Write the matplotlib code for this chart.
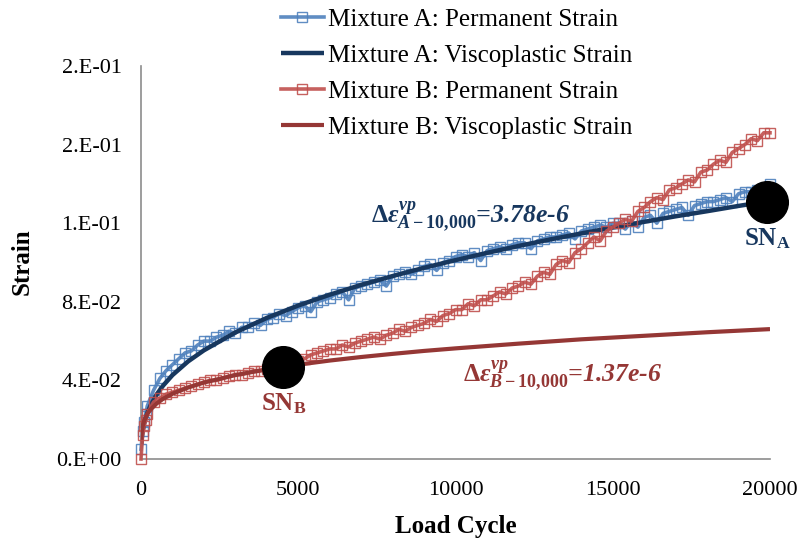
import numpy as np
import matplotlib
matplotlib.use('Agg')
import matplotlib.pyplot as plt

plt.rcParams['font.family'] = ['Liberation Serif', 'DejaVu Serif']
plt.rcParams['mathtext.fontset'] = 'custom'
plt.rcParams['mathtext.rm'] = 'Liberation Serif:bold'
plt.rcParams['mathtext.it'] = 'Liberation Serif:italic:bold'
plt.rcParams['mathtext.bf'] = 'Liberation Serif:bold'

# ---------------- data ----------------
cycles = [0, 50, 100, 150] + list(range(200, 20001, 200))

perm_a = [0.005, 0.014, 0.019, 0.023,
          0.027, 0.035, 0.041, 0.045, 0.048,
          0.051, 0.054, 0.055, 0.058, 0.060,
          0.060, 0.062, 0.063, 0.065, 0.064,
          0.067, 0.067, 0.069, 0.068, 0.071,
          0.072, 0.074, 0.073, 0.075, 0.077,
          0.078, 0.075, 0.080, 0.081, 0.082,
          0.084, 0.085, 0.081, 0.087, 0.088,
          0.089, 0.090, 0.091, 0.088, 0.093,
          0.094, 0.095, 0.094, 0.096, 0.098,
          0.099, 0.096, 0.100, 0.101, 0.103,
          0.104, 0.103, 0.105, 0.101, 0.106,
          0.107, 0.108, 0.107, 0.109, 0.110,
          0.110, 0.107, 0.111, 0.112, 0.113,
          0.113, 0.114, 0.115, 0.112, 0.116,
          0.117, 0.118, 0.119, 0.118, 0.120,
          0.120, 0.117, 0.121, 0.118, 0.123,
          0.124, 0.120, 0.125, 0.126, 0.127,
          0.128, 0.124, 0.129, 0.130, 0.131,
          0.131, 0.132, 0.133, 0.131, 0.135,
          0.136, 0.136, 0.137, 0.138, 0.140]

perm_b = [0.000, 0.012, 0.017, 0.020,
          0.023, 0.029, 0.031, 0.033, 0.034,
          0.035, 0.036, 0.037, 0.038, 0.039,
          0.040, 0.040, 0.041, 0.042, 0.043,
          0.043, 0.044, 0.045, 0.045, 0.046,
          0.047, 0.047, 0.048, 0.049, 0.050,
          0.051, 0.053, 0.054, 0.055, 0.056,
          0.056, 0.058, 0.057, 0.059, 0.060,
          0.061, 0.062, 0.061, 0.063, 0.064,
          0.066, 0.065, 0.067, 0.068, 0.069,
          0.071, 0.070, 0.073, 0.074, 0.076,
          0.076, 0.079, 0.078, 0.081, 0.081,
          0.083, 0.085, 0.084, 0.087, 0.088,
          0.090, 0.089, 0.093, 0.095, 0.094,
          0.099, 0.101, 0.100, 0.105, 0.107,
          0.110, 0.113, 0.111, 0.116, 0.118,
          0.120, 0.122, 0.121, 0.126, 0.128,
          0.131, 0.133, 0.132, 0.137, 0.138,
          0.140, 0.142, 0.141, 0.146, 0.147,
          0.150, 0.152, 0.151, 0.156, 0.158,
          0.160, 0.163, 0.162, 0.166, 0.166]

vp_cycles_a = [10, 25, 50, 100, 200, 300, 500, 700, 1000, 1500, 2000, 3000, 4000,
               5000, 6000, 7000, 8000, 9000, 10000, 11000, 12000, 13000, 14000,
               15000, 16000, 17000, 18000, 19000, 20000]
vp_a = [0.0076, 0.0107, 0.0139, 0.0180, 0.0233, 0.0272, 0.0329, 0.0373, 0.0427,
        0.0497, 0.0553, 0.0644, 0.0718, 0.0781, 0.0836, 0.0886, 0.0931, 0.0973,
        0.1012, 0.1049, 0.1084, 0.1117, 0.1148, 0.1178, 0.1207, 0.1235, 0.1261,
        0.1288, 0.1313]

vp_cycles_b = [5, 20, 50, 100, 200, 300, 500, 700, 1000, 1500, 2000, 3000, 4000,
               5000, 6000, 7000, 8000, 9000, 10000, 12000, 14000, 16000, 18000, 20000]
vp_b = [0.0098, 0.0135, 0.0167, 0.0195, 0.0229, 0.0251, 0.0283, 0.0306, 0.0332,
        0.0364, 0.0389, 0.0427, 0.0456, 0.0480, 0.0501, 0.0519, 0.0535, 0.0550,
        0.0563, 0.0587, 0.0609, 0.0627, 0.0645, 0.0661]

sn_cycles = [19900, 4530]
sn_strain = [0.131, 0.0469]

x_ticks = [0, 5000, 10000, 15000, 20000]
y_ticks = [0.0, 0.04, 0.08, 0.12, 0.16, 0.20]
y_tick_labels = ['0.E+00', '4.E-02', '8.E-02', '1.E-01', '2.E-01', '2.E-01']

series_names = ['Mixture A: Permanent Strain', 'Mixture A: Viscoplastic Strain',
                'Mixture B: Permanent Strain', 'Mixture B: Viscoplastic Strain']

# ---------------- colours ----------------
c_a_perm = '#4F81BD'
c_a_vp = '#17375E'
c_b_perm = '#C0504D'
c_b_vp = '#953735'

fig = plt.figure(figsize=(8.02, 5.45), dpi=100)
ax = fig.add_axes([141/802, 1 - 459/545, (770 - 141)/802, (459 - 66)/545])

h1, = ax.plot(cycles, perm_a, color=c_a_perm, lw=2.6, marker='s', ms=7.5,
              mfc='none', mec=c_a_perm, mew=1.0, alpha=0.9, clip_on=False,
              label=series_names[0], zorder=2)
h2, = ax.plot(vp_cycles_a, vp_a, color=c_a_vp, lw=3.2, label=series_names[1],
              zorder=3, solid_capstyle='butt')
h3, = ax.plot(cycles, perm_b, color=c_b_perm, lw=2.6, marker='s', ms=7.5,
              mfc='none', mec=c_b_perm, mew=1.0, alpha=0.9, clip_on=False,
              label=series_names[2], zorder=4)
h4, = ax.plot(vp_cycles_b, vp_b, color=c_b_vp, lw=3.0, label=series_names[3],
              zorder=5, solid_capstyle='butt')

ax.scatter(sn_cycles, sn_strain, s=900, color='black', zorder=10, clip_on=False)

ax.set_xlim(0, 20000)
ax.set_ylim(0, 0.2)
ax.set_xticks(x_ticks)
ax.set_xticklabels([str(t) for t in x_ticks])
ax.set_yticks(y_ticks)
ax.set_yticklabels(y_tick_labels)
ax.tick_params(length=0, labelsize=16, colors='black')
ax.tick_params(axis='x', pad=16)
ax.tick_params(axis='y', pad=14)

for s in ['top', 'right']:
    ax.spines[s].set_visible(False)
for s in ['left', 'bottom']:
    ax.spines[s].set_color('#8C8C8C')
    ax.spines[s].set_linewidth(1.2)

fig.text(22/802, 1 - 262/545, 'Strain', rotation=90, fontsize=18,
         fontweight='bold', ha='center', va='center')
fig.text(456/802, 1 - 527/545, 'Load Cycle', fontsize=18,
         fontweight='bold', ha='center', va='center')

# annotations
ax.text(7300, 0.1203, r'$\Delta\varepsilon^{vp}_{A-10{,}000}$=3.78e-6',
        color=c_a_vp, fontsize=18.5, fontweight='bold', fontstyle='italic',
        va='baseline', ha='left')
ax.text(10250, 0.0392, r'$\Delta\varepsilon^{vp}_{B-10{,}000}$=1.37e-6',
        color=c_b_vp, fontsize=18.5, fontweight='bold', fontstyle='italic',
        va='baseline', ha='left')

ax.text(sn_cycles[0], sn_strain[0] - 0.0125, r'SN$_{\mathregular{A}}$',
        color=c_a_vp, fontsize=18, fontweight='bold', ha='center', va='top')
ax.text(sn_cycles[1], sn_strain[1] - 0.0125, r'SN$_{\mathregular{B}}$',
        color=c_b_vp, fontsize=18, fontweight='bold', ha='center', va='top')

leg = fig.legend(handles=[h1, h2, h3, h4], loc='upper left',
                 bbox_to_anchor=(268/802, 1.007), frameon=False, fontsize=18,
                 handlelength=1.75, handletextpad=0.15, labelspacing=0.54,
                 borderpad=0.0, numpoints=1)

fig.savefig('out.png', dpi=100)
